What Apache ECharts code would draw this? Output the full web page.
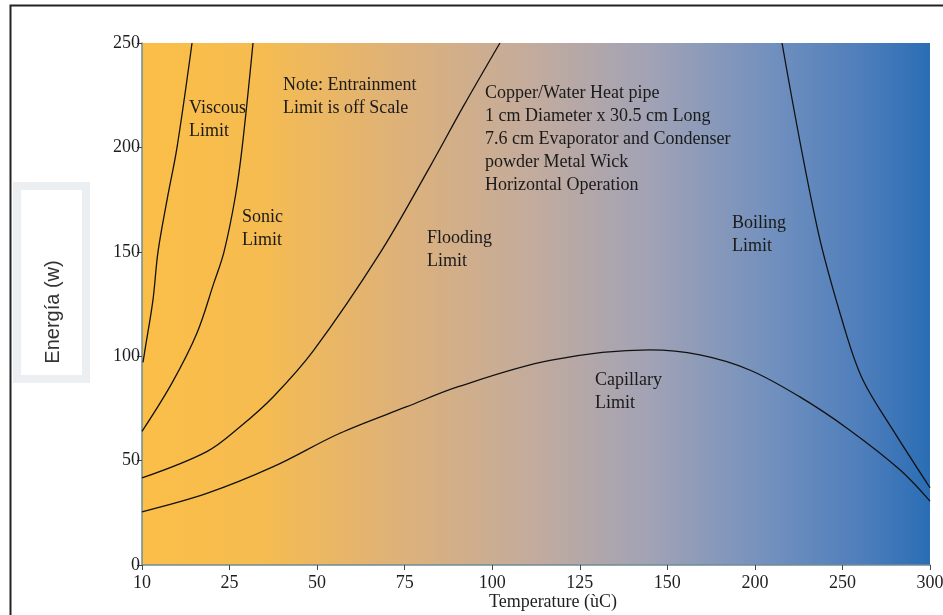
<!DOCTYPE html>
<html>
<head>
<meta charset="utf-8">
<script src="https://cdn.jsdelivr.net/npm/echarts@6/dist/echarts.min.js"></script>
<style>html,body{margin:0;padding:0;background:#fff}#c{width:943px;height:615px}</style>
</head>
<body>
<div id="c"></div>
<script>
// Tick labels of the (non-uniform) temperature axis, equally spaced on the chart
const tempTicks = [10, 25, 50, 75, 100, 125, 150, 200, 250, 300];
const powerTicks = [0, 50, 100, 150, 200, 250];

// Curves: [temperature (°C), power (W)]
const viscousLimit = [[10.17, 97], [10.51, 103], [11.88, 127], [12.74, 150], [14.3, 175], [16.0, 200], [18.57, 250]];
const sonicLimit = [[10, 64], [15.1, 87], [19.4, 111], [22.3, 135], [24.05, 150], [26.6, 176], [28.6, 200], [31.7, 250]];
const floodingLimit = [[10, 41.7], [21.1, 54.3], [28, 66.2], [37.5, 80.6], [48.9, 102.5], [67.9, 149.2], [82.2, 190.7], [91.7, 219.5], [102.2, 250]];
const capillaryLimit = [[10, 25.5], [21.1, 34.3], [37.5, 47.1], [56.5, 63.1], [75.6, 75.8], [90.3, 85.4], [116.5, 98], [145, 103], [168.6, 100.6], [197, 93.4], [225.7, 80.5], [254, 64.7], [283, 45.5], [300, 30.6]];
const boilingLimit = [[215.5, 250], [236, 160], [251.5, 112.5], [261.7, 88.6], [278.8, 64.7], [300, 37]];

// map temperature onto the equally-spaced tick positions
function tempToPos(t) {
  for (let i = 0; i < tempTicks.length - 1; i++) {
    const a = tempTicks[i], b = tempTicks[i + 1];
    if (t <= b || i === tempTicks.length - 2) return i + (t - a) / (b - a);
  }
}
const conv = arr => arr.map(p => [tempToPos(p[0]), p[1]]);

const serif = '"Liberation Serif", "DejaVu Serif", serif';
const chart = echarts.init(document.getElementById('c'), null, {renderer: 'canvas'});

const lineSeries = (name, data) => ({
  name, type: 'line', data: conv(data), smooth: 0.35, showSymbol: false, symbol: 'none',
  lineStyle: {color: '#111', width: 1.3}, silent: true, z: 3
});

const note = (x, y, text) => ({
  type: 'text', left: x, top: y, z: 10,
  style: {text, font: '18px ' + serif, fill: '#1a1a1a', lineHeight: 23}
});

chart.setOption({
  animation: false,
  backgroundColor: '#fff',
  grid: {
    left: 142, right: 13, top: 43, bottom: 50, show: true, borderWidth: 0,
    containLabel: false, outerBoundsMode: 'none',
    backgroundColor: {
      type: 'linear', x: 0, y: 0, x2: 1, y2: 0,
      colorStops: [
        {offset: 0, color: '#FBBE48'},
        {offset: 0.15, color: '#F6BC50'},
        {offset: 0.33, color: '#DDB17A'},
        {offset: 0.5, color: '#C2AB9E'},
        {offset: 0.65, color: '#A0A2B6'},
        {offset: 0.8, color: '#7190BE'},
        {offset: 0.92, color: '#4C7DBB'},
        {offset: 1, color: '#2A6DB4'}
      ]
    }
  },
  xAxis: {
    type: 'value', min: 0, max: tempTicks.length - 1, interval: 1,
    axisLine: {show: true, lineStyle: {color: '#6f8c94', width: 1.5}},
    axisTick: {show: true, length: 5, lineStyle: {color: '#3a4a55'}},
    splitLine: {show: false},
    axisLabel: {
      margin: 9, color: '#1e1e1e', fontFamily: serif, fontSize: 18, hideOverlap: false,
      formatter: v => tempTicks[Math.round(v)]
    }
  },
  yAxis: {
    type: 'value', min: powerTicks[0], max: powerTicks[powerTicks.length - 1], interval: 50,
    axisLine: {show: true, lineStyle: {color: '#6f8c94', width: 1.5}},
    axisTick: {show: true, length: 5, lineStyle: {color: '#3a4a55'}},
    splitLine: {show: false},
    axisLabel: {margin: 2, color: '#1e1e1e', fontFamily: serif, fontSize: 18}
  },
  series: [
    lineSeries('Viscous Limit', viscousLimit),
    lineSeries('Sonic Limit', sonicLimit),
    lineSeries('Flooding Limit', floodingLimit),
    lineSeries('Capillary Limit', capillaryLimit),
    lineSeries('Boiling Limit', boilingLimit)
  ],
  graphic: [
    {type: 'rect', shape: {x: 10.5, y: 5.5, width: 960, height: 700}, style: {fill: 'none', stroke: '#222', lineWidth: 2}, z: 1},
    {type: 'rect', shape: {x: 17, y: 186, width: 69, height: 193}, style: {fill: '#fff', stroke: '#eceff2', lineWidth: 8}, z: 1},
    {type: 'text', x: 53, y: 312, rotation: Math.PI / 2, z: 10,
      style: {text: 'Energía (w)', font: '20px "Liberation Sans", Arial, sans-serif', fill: '#333', align: 'center', verticalAlign: 'middle'}},
    {type: 'text', x: 553, y: 602, z: 10,
      style: {text: 'Temperature (ùC)', font: '18px ' + serif, fill: '#1e1e1e', align: 'center', verticalAlign: 'middle'}},
    note(189, 97, 'Viscous\nLimit'),
    note(242, 206, 'Sonic\nLimit'),
    note(283, 74, 'Note: Entrainment\nLimit is off Scale'),
    note(427, 227, 'Flooding\nLimit'),
    note(485, 82, 'Copper/Water Heat pipe\n1 cm Diameter x 30.5 cm Long\n7.6 cm Evaporator and Condenser\npowder Metal Wick\nHorizontal Operation'),
    note(732, 212, 'Boiling\nLimit'),
    note(595, 369, 'Capillary\nLimit')
  ]
});
</script>
</body>
</html>
